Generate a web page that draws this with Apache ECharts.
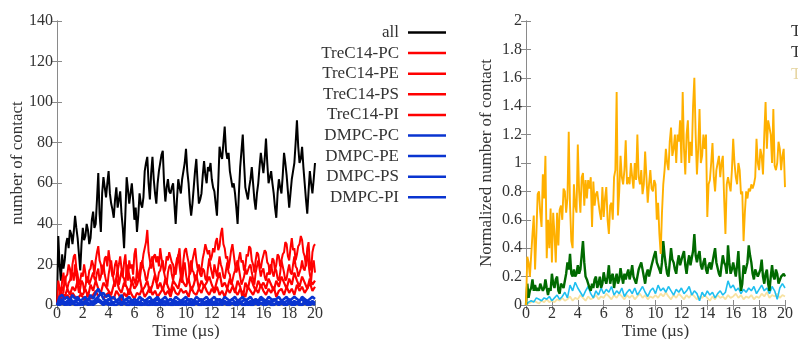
<!DOCTYPE html>
<html>
<head>
<meta charset="utf-8">
<script src="https://cdn.jsdelivr.net/npm/echarts@6/dist/echarts.min.js"></script>
<style>html,body{margin:0;padding:0;background:#fff}#c{width:798px;height:339px}</style>
</head>
<body>
<div id="c"></div>
<script>
const time = [0,0.2,0.4,0.6,0.8,1,1.2,1.4,1.6,1.8,2,2.2,2.4,2.6,2.8,3,3.2,3.4,3.6,3.8,4,4.2,4.4,4.6,4.8,5,5.2,5.4,5.6,5.8,6,6.2,6.4,6.6,6.8,7,7.2,7.4,7.6,7.8,8,8.2,8.4,8.6,8.8,9,9.2,9.4,9.6,9.8,10,10.2,10.4,10.6,10.8,11,11.2,11.4,11.6,11.8,12,12.2,12.4,12.6,12.8,13,13.2,13.4,13.6,13.8,14,14.2,14.4,14.6,14.8,15,15.2,15.4,15.6,15.8,16,16.2,16.4,16.6,16.8,17,17.2,17.4,17.6,17.8,18,18.2,18.4,18.6,18.8,19,19.2,19.4,19.6,19.8,20];
const timeFine = [0,0.1,0.2,0.3,0.4,0.5,0.6,0.7,0.8,0.9,1,1.1,1.2,1.3,1.4,1.5,1.6,1.7,1.8,1.9,
 2,2.1,2.2,2.3,2.4,2.5,2.6,2.7,2.8,2.9,3,3.1,3.2,3.3,3.4,3.5,3.6,3.7,3.8,3.9,
 4,4.1,4.2,4.3,4.4,4.5,4.6,4.7,4.8,4.9,5,5.1,5.2,5.3,5.4,5.5,5.6,5.7,5.8,5.9,
 6,6.1,6.2,6.3,6.4,6.5,6.6,6.7,6.8,6.9,7,7.1,7.2,7.3,7.4,7.5,7.6,7.7,7.8,7.9,
 8,8.1,8.2,8.3,8.4,8.5,8.6,8.7,8.8,8.9,9,9.1,9.2,9.3,9.4,9.5,9.6,9.7,9.8,9.9,
 10,10.1,10.2,10.3,10.4,10.5,10.6,10.7,10.8,10.9,11,11.1,11.2,11.3,11.4,11.5,11.6,11.7,11.8,11.9,
 12,12.1,12.2,12.3,12.4,12.5,12.6,12.7,12.8,12.9,13,13.1,13.2,13.3,13.4,13.5,13.6,13.7,13.8,13.9,
 14,14.1,14.2,14.3,14.4,14.5,14.6,14.7,14.8,14.9,15,15.1,15.2,15.3,15.4,15.5,15.6,15.7,15.8,15.9,
 16,16.1,16.2,16.3,16.4,16.5,16.6,16.7,16.8,16.9,17,17.1,17.2,17.3,17.4,17.5,17.6,17.7,17.8,17.9,
 18,18.1,18.2,18.3,18.4,18.5,18.6,18.7,18.8,18.9,19,19.1,19.2,19.3,19.4,19.5,19.6,19.7,19.8,19.9,20];

const leftNames = ['all','TreC14-PC','TreC14-PE','TreC14-PS','TreC14-PI','DMPC-PC','DMPC-PE','DMPC-PS','DMPC-PI'];

// 0.1 us sampling
const allContact = [0,34,20,12,25,18,22,30,33,28, 37,35,30,36,44,38,33,25,17,30,
 38,32,34,40,37,30,33,42,46,38, 40,52,65,45,36,55,63,58,53,60,
 66,55,50,47,43,52,58,48,52,56, 45,38,28,45,63,57,50,55,60,52,
 42,48,36,44,55,50,48,53,66,70, 73,60,52,65,73,62,55,50,60,66,
 70,74,76,60,51,58,62,56,55,58, 60,50,40,52,62,58,55,62,66,70,
 77,66,60,50,44,50,58,66,72,60, 50,52,55,64,71,64,60,68,66,70,
 62,58,56,50,44,60,78,74,72,80, 88,76,72,75,66,62,58,60,55,48,
 40,55,68,76,84,70,58,55,52,58, 62,68,60,52,47,55,60,68,75,70,
 65,72,82,70,60,63,66,60,55,48, 43,55,62,58,55,64,75,70,64,56,
 48,55,62,66,70,80,91,78,70,72, 78,68,60,52,45,56,66,60,55,62, 70];
const trePC = [0,12,8,5,12,16,10,14,15,20, 18,12,20,24,25,18,15,10,12,16,
 14,20,16,11,12,17,18,22,20,15, 22,26,29,22,20,15,18,23,24,19,
 27,22,18,14,15,20,22,17,20,24, 18,14,21,25,16,12,22,18,20,15,
 25,28,18,13,15,21,20,25,28,31, 37,26,22,18,20,24,25,21,24,19,
 28,23,20,16,18,24,22,26,26,21, 20,15,19,23,24,28,18,14,22,27,
 28,24,21,15,17,22,25,28,22,18, 20,16,18,23,26,30,30,25,27,22,
 24,28,26,31,33,27,29,35,38,30, 28,23,24,18,22,27,30,25,20,16,
 18,23,26,21,22,17,19,25,24,29, 28,22,20,16,22,26,25,20,18,22,
 22,27,26,21,20,15,18,23,22,17, 20,25,24,19,19,25,26,31,30,24,
 22,28,33,27,28,22,25,29,30,34, 32,26,24,19,28,31,20,17,26,29, 30];
const trePE = [0,3,5,8,9,6,14,10,8,11, 12,15,16,12,20,14,10,6,8,12,
 11,7,9,13,14,10,10,14,16,13, 12,16,18,12,14,18,20,15,12,9,
 15,19,22,16,12,9,14,18,10,13, 17,14,13,9,20,17,15,12,11,14,
 14,10,18,14,12,17,22,18,16,12, 13,17,19,22,24,18,15,11,12,16,
 17,20,22,16,13,10,16,19,20,15, 12,16,15,20,25,19,14,11,18,21,
 15,11,12,18,22,17,16,12,13,17, 19,15,14,18,17,13,12,18,23,19,
 16,13,20,17,14,19,24,20,18,14, 13,17,21,16,15,10,12,15,17,20,
 22,18,14,10,10,14,18,15,15,19, 20,16,13,10,16,19,22,18,14,17,
 18,14,12,16,15,19,20,16,14,18, 17,13,12,16,22,19,16,12,13,17,
 20,16,15,20,24,19,18,14,14,18, 22,18,17,21,26,20,15,12,19,22, 16];
// 0.2 us sampling
const trePS = [0,3,6,4,8,5,9,7,12,6, 5,8,4,10,7,12,8,6,11,9, 7,5,10,13,8,6,11,9,5,12, 8,10,14,7,9,12,6,10,15,8, 11,7,13,9,6,12,10,8,14,11, 9,13,7,10,15,8,12,9,11,14, 10,7,12,16,9,11,8,13,10,6, 12,9,3,11,8,14,10,7,12,9, 11,8,13,10,7,12,9,14,11,8, 13,10,16,12,9,14,11,8,13,10, 12];
const trePI = [0,2,4,3,5,3,6,4,3,5, 4,2,6,3,5,7,4,6,3,5, 6,4,3,7,5,2,6,4,8,5, 3,6,5,8,4,6,9,5,7,4, 6,8,5,7,4,9,6,5,8,6, 7,4,9,6,5,8,6,10,7,5, 8,6,9,5,7,4,8,6,9,7, 5,8,6,4,9,7,5,8,6,10, 7,5,8,6,9,4,7,8,5,9, 6,8,5,10,7,9,6,8,11,7, 9];
const dmpcPC = [0,4,5,3,4,2,5,3,4,2, 3,4,2,5,3,6,8,5,6,4, 5,3,4,2,3,5,2,3,4,2, 3,2,4,3,2,3,4,2,3,4, 2,3,4,2,3,2,4,3,2,3, 4,2,3,2,4,3,2,3,4,2, 3,4,2,3,2,4,3,2,3,4, 2,3,4,2,3,4,2,3,2,4, 3,2,4,3,2,3,4,2,3,4, 2,3,4,3,2,4,3,2,3,4, 3];
const dmpcPE = [0,2,3,1,2,3,2,1,3,2, 1,2,3,2,1,3,4,6,3,2, 3,2,1,2,3,1,2,3,1,2, 1,2,1,3,2,1,2,1,2,3, 1,2,1,2,3,1,2,1,2,1, 2,3,1,2,1,2,3,1,2,1, 2,1,3,2,1,2,1,2,3,1, 2,1,2,3,1,2,1,2,1,3, 2,1,2,1,3,2,1,2,1,2, 3,1,2,1,2,3,1,2,1,2, 1];
const dmpcPS = [0,1,2,1,0,2,1,2,1,0, 1,2,1,0,2,1,3,2,1,2, 1,0,1,2,1,0,1,1,2,0, 1,0,1,1,0,2,1,0,1,1, 0,1,2,0,1,1,0,1,0,2, 1,0,1,1,2,0,1,0,1,1, 0,1,1,0,2,1,0,1,1,0, 1,2,0,1,0,1,1,2,0,1, 1,0,1,2,0,1,0,1,1,0, 2,1,0,1,1,0,2,1,0,1, 1];
const dmpcPI = [0,0,1,0,1,0,1,0,0,1, 0,1,0,1,0,1,2,1,0,1, 0,1,0,0,1,0,1,0,0,1, 0,1,0,0,1,0,0,1,0,0, 1,0,0,1,0,0,1,0,1,0, 0,1,0,0,1,0,0,1,0,0, 1,0,0,1,0,1,0,0,1,0, 0,1,0,0,1,0,0,1,0,1, 0,0,1,0,0,1,0,1,0,0, 1,0,0,1,0,0,1,0,0,1, 0];

// 0.1 us sampling
const normOrange = [0,0.34,0.3,0.2,0.2,0.5,0.63,0.25,0.5,0.78, 0.8,0.65,0.55,0.92,0.75,1.05,0.33,0.6,0.4,0.68,
 0.3,0.65,0.5,0.3,0.65,0.42,0.67,0.7,0.6,0.82, 0.8,0.65,0.75,1.22,0.7,0.45,0.4,0.85,0.7,0.65,
 1.13,0.8,0.65,0.9,0.93,0.7,0.88,0.75,0.88,0.82, 0.9,0.55,0.87,0.7,0.78,0.8,0.72,0.65,0.6,0.83,
 0.62,0.75,0.83,0.6,0.5,0.7,0.72,0.6,0.9,0.95, 1.5,0.63,0.8,1.05,0.9,0.85,0.95,1.16,0.85,0.9,
 0.85,1.0,0.9,0.82,1.0,0.88,1.2,0.9,0.85,0.95, 0.78,0.85,1.08,0.9,0.72,0.85,0.95,0.82,0.8,0.88,
 0.85,0.6,0.72,0.5,0.36,0.65,0.85,0.95,1.1,1.0, 0.95,1.15,1.25,1.05,1.1,1.2,1.0,1.2,1.15,1.3,
 1.0,1.5,1.1,0.92,1.2,1.3,1.0,1.15,1.05,1.4, 1.6,1.2,0.92,1.1,1.38,1.0,1.05,1.2,1.1,1.2,
 0.62,0.85,0.88,1.0,1.14,0.9,0.8,0.95,1.0,1.05, 0.9,1.0,1.05,0.75,0.5,0.85,0.9,0.85,0.8,0.95,
 1.17,1.0,0.9,0.85,1.0,0.95,0.78,0.8,0.45,0.65, 0.8,0.75,0.82,0.8,0.85,0.82,0.85,0.9,1.17,1.0,
 0.95,1.1,1.05,0.92,1.2,1.43,1.1,1.3,1.25,1.2, 1.0,1.38,0.98,0.95,1.0,1.15,1.1,0.95,1.05,1.1, 0.83];
const normGreen = [0,0.15,0.05,0.1,0.12,0.18,0.1,0.14,0.1,0.12, 0.1,0.15,0.15,0.1,0.12,0.18,0.12,0.07,0.12,0.1,
 0.22,0.15,0.12,0.18,0.2,0.1,0.08,0.15,0.15,0.12, 0.12,0.22,0.3,0.25,0.36,0.22,0.2,0.25,0.2,0.22,
 0.28,0.22,0.25,0.35,0.45,0.3,0.2,0.18,0.15,0.12, 0.1,0.15,0.12,0.18,0.2,0.12,0.15,0.2,0.12,0.15,
 0.23,0.18,0.15,0.2,0.28,0.15,0.2,0.22,0.12,0.18, 0.22,0.15,0.18,0.26,0.2,0.15,0.22,0.18,0.22,0.25,
 0.18,0.22,0.28,0.2,0.2,0.15,0.15,0.25,0.25,0.3, 0.3,0.2,0.15,0.22,0.25,0.2,0.2,0.28,0.28,0.35,
 0.38,0.3,0.3,0.25,0.22,0.3,0.45,0.35,0.28,0.22, 0.2,0.3,0.4,0.32,0.3,0.25,0.22,0.3,0.35,0.28,
 0.28,0.35,0.38,0.28,0.22,0.3,0.35,0.28,0.28,0.38, 0.5,0.35,0.3,0.35,0.38,0.28,0.25,0.3,0.33,0.25,
 0.22,0.28,0.3,0.25,0.25,0.35,0.4,0.3,0.3,0.22, 0.2,0.28,0.35,0.3,0.28,0.22,0.42,0.3,0.22,0.25,
 0.3,0.25,0.2,0.28,0.38,0.2,0.1,0.15,0.28,0.22, 0.22,0.3,0.42,0.35,0.3,0.22,0.18,0.25,0.26,0.2,
 0.2,0.25,0.32,0.2,0.15,0.22,0.25,0.15,0.1,0.2, 0.28,0.2,0.18,0.25,0.22,0.15,0.15,0.2,0.2,0.22, 0.2];
// 0.2 us sampling
const normCyan = [0,0.02,0.03,0.02,0.05,0.04,0.03,0.05,0.04,0.06, 0.03,0.05,0.07,0.04,0.06,0.09,0.05,0.14,0.1,0.16, 0.12,0.09,0.06,0.1,0.13,0.08,0.05,0.1,0.07,0.12, 0.08,0.11,0.09,0.13,0.07,0.1,0.08,0.12,0.06,0.09, 0.11,0.08,0.12,0.07,0.1,0.13,0.09,0.06,0.1,0.12, 0.08,0.14,0.1,0.12,0.09,0.13,0.1,0.07,0.11,0.09, 0.12,0.08,0.1,0.13,0.07,0.1,0.08,0.03,0.09,0.06, 0.1,0.07,0.09,0.05,0.08,0.1,0.07,0.09,0.17,0.12, 0.14,0.1,0.12,0.08,0.11,0.09,0.12,0.1,0.13,0.08, 0.11,0.14,0.1,0.12,0.08,0.13,0.1,0.04,0.12,0.15, 0.12];
const normYellow = [0,0.01,0.02,0.03,0.02,0.01,0.03,0.02,0.04,0.02, 0.03,0.02,0.04,0.03,0.05,0.03,0.04,0.06,0.03,0.05, 0.04,0.07,0.05,0.03,0.06,0.04,0.05,0.07,0.04,0.06, 0.05,0.08,0.06,0.04,0.07,0.05,0.08,0.06,0.04,0.07, 0.05,0.07,0.04,0.06,0.08,0.05,0.07,0.04,0.06,0.05, 0.07,0.05,0.08,0.06,0.09,0.06,0.04,0.07,0.05,0.08, 0.06,0.04,0.07,0.05,0.08,0.06,0.04,0.06,0.05,0.07, 0.05,0.03,0.06,0.04,0.07,0.05,0.06,0.04,0.07,0.05, 0.06,0.08,0.05,0.07,0.04,0.06,0.05,0.07,0.04,0.06, 0.05,0.08,0.06,0.09,0.05,0.07,0.06,0.08,0.05,0.07, 0.06];
const rightLegendLabels = ['TreC14-PC','TreC14-PE','TreC14-PS'];

const FONT = "'Liberation Serif','DejaVu Serif',serif";
const pair = (ts, arr) => ts.map((t,i)=>[t, arr[i]]);
const axisLineStyle = {show:true, lineStyle:{color:'#8a8a8a', width:1}};
const tick = {show:true, inside:true, length:5, lineStyle:{color:'#8a8a8a'}};
const xLbl = {fontFamily:FONT, fontSize:16, color:'#333', margin:1};
const yLbl = {fontFamily:FONT, fontSize:16, color:'#333', margin:4};

function xAxes(g){
  return [
    {gridIndex:g, type:'value', min:0, max:20, interval:2, position:'bottom',
     axisLine:axisLineStyle, axisTick:tick, splitLine:{show:false}, axisLabel:xLbl,
     name:'Time (\u00b5s)', nameLocation:'middle', nameGap:18, nameMoveOverlap:false,
     nameTextStyle:{fontFamily:FONT, fontSize:17, color:'#333', verticalAlign:'top'}},
    {gridIndex:g, type:'value', min:0, max:20, interval:2, position:'top',
     axisLine:axisLineStyle, axisTick:tick, splitLine:{show:false}, axisLabel:{show:false}}
  ];
}
function yAxes(g, max, interval, name){
  return [
    {gridIndex:g, type:'value', min:0, max:max, interval:interval, position:'left',
     axisLine:axisLineStyle, axisTick:tick, splitLine:{show:false}, axisLabel:yLbl,
     name:name, nameLocation:'middle', nameGap:31, nameMoveOverlap:false,
     nameTextStyle:{fontFamily:FONT, fontSize:17, color:'#333'}},
    {gridIndex:g, type:'value', min:0, max:max, interval:interval, position:'right',
     axisLine:axisLineStyle, axisTick:tick, splitLine:{show:false}, axisLabel:{show:false}}
  ];
}

const leftColors = ['#000000','#ff0000','#ff0000','#ff0000','#ff0000','#0a34d0','#0a34d0','#0a34d0','#0a34d0'];
const leftData = [allContact,trePC,trePE,trePS,trePI,dmpcPC,dmpcPE,dmpcPS,dmpcPI];
const leftTimes = [timeFine,timeFine,timeFine,time,time,time,time,time,time];
const leftWidths = [2,2,2,2.2,2.2,2.6,2.6,2.6,2.6];

const series = leftData.map((d,i)=>({
  name:leftNames[i], type:'line', xAxisIndex:0, yAxisIndex:0,
  data:pair(leftTimes[i], d),
  symbol:'none', showSymbol:false, animation:false,
  lineStyle:{color:leftColors[i], width:leftWidths[i]}, itemStyle:{color:leftColors[i]}
}));
const rightDefs = [
  [time, normYellow,'#f7e2a2',1.8],
  [time, normCyan,'#1fbff0',1.6],
  [timeFine, normGreen,'#006a00',2.4],
  [timeFine, normOrange,'#ffb000',1.9]
];
rightDefs.forEach((r)=>{
  series.push({type:'line', xAxisIndex:2, yAxisIndex:2, data:pair(r[0], r[1]), symbol:'none', animation:false,
    lineStyle:{color:r[2], width:r[3]}, itemStyle:{color:r[2]}, legendHoverLink:false});
});

const chart = echarts.init(document.getElementById('c'), null, {renderer:'canvas'});
chart.setOption({
  animation:false,
  backgroundColor:'#fff',
  grid:[
    {left:57, top:21, width:258, height:284, outerBoundsMode:'none', containLabel:false},
    {left:526, top:21, width:259, height:284, outerBoundsMode:'none', containLabel:false}
  ],
  xAxis:[...xAxes(0), ...xAxes(1)],
  yAxis:[...yAxes(0,140,20,'number of contact'), ...yAxes(1,2,0.2,'Normalized number of contact')],
  legend:{
    data:leftNames, orient:'vertical', right:347, top:19, align:'right',
    icon:'rect', itemWidth:38, itemHeight:2.5, itemGap:3.6, selectedMode:false,
    textStyle:{fontFamily:FONT, fontSize:17, lineHeight:16, color:'#333', padding:[0,4,0,0]}
  },
  graphic: rightLegendLabels.map((s,i)=>({
    type:'text', left:791, top:23 + i*21.5,
    style:{text:s, fontFamily:FONT, fontSize:17, fill: i<2 ? '#333' : '#e6d6a4'}
  })),
  series:series
});
</script>
</body>
</html>
